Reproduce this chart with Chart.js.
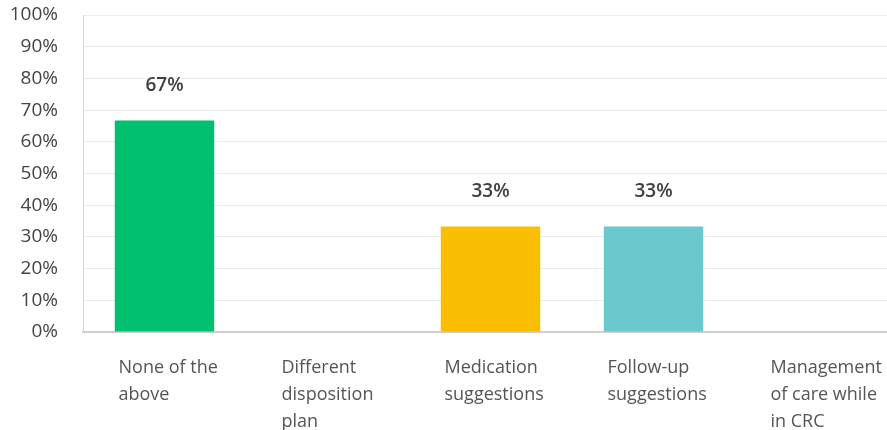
<!DOCTYPE html>
<html>
<head>
<meta charset="utf-8">
<script src="https://cdn.jsdelivr.net/npm/chart.js@4"></script>
<style>
    html, body { margin: 0; padding: 0; background: #fff; overflow: hidden; }
    #wrap { width: 898px; height: 430px; }
</style>
</head>
<body>
<div id="wrap"><canvas id="chart"></canvas></div>
<script>
'use strict';

const categories = [
    ['None of the', 'above'],
    ['Different', 'disposition', 'plan'],
    ['Medication', 'suggestions'],
    ['Follow-up', 'suggestions'],
    ['Management', 'of care while', 'in CRC']
];
// bar heights (2/3 and 1/3 of respondents)
const values = [66.7, 0, 33.3, 33.3, 0];
const barColors = ['#00bf6f', '#00bf6f', '#f9be00', '#6bc8cd', '#6bc8cd'];
const yTicks = [0, 10, 20, 30, 40, 50, 60, 70, 80, 90, 100];

const FONT = '"Open Sans", sans-serif';

// draws the "67%" labels above each non-zero bar
const valueLabels = {
    id: 'valueLabels',
    afterDatasetsDraw(chart) {
        const ctx = chart.ctx;
        const meta = chart.getDatasetMeta(0);
        ctx.save();
        ctx.font = '600 19px ' + FONT;
        ctx.fillStyle = '#3c4043';
        ctx.textAlign = 'center';
        ctx.textBaseline = 'middle';
        meta.data.forEach((bar, i) => {
            if (!values[i]) return;
            ctx.fillText(Math.round(values[i]) + '%', bar.x, bar.y - 35);
        });
        ctx.restore();
    }
};

new Chart(document.getElementById('chart'), {
    type: 'bar',
    data: {
        labels: categories,
        datasets: [{
            data: values,
            backgroundColor: barColors,
            borderWidth: 0,
            categoryPercentage: 1,
            barPercentage: 0.61
        }]
    },
    options: {
        responsive: true,
        maintainAspectRatio: false,
        animation: false,
        layout: { padding: { top: 15, right: 0, left: 0, bottom: 0 } },
        plugins: {
            legend: { display: false },
            tooltip: { enabled: false }
        },
        scales: {
            x: {
                grid: { display: false, drawTicks: false },
                border: { color: '#cfcfcf', width: 2 },
                ticks: {
                    color: '#555',
                    font: { family: FONT, size: 18, lineHeight: 1.5 },
                    padding: 22,
                    align: 'start',
                    labelOffset: -46,
                    autoSkip: false,
                    maxRotation: 0
                },
                afterFit(scale) {
                    scale.height = 98;
                    scale.paddingLeft = 0;
                    scale.paddingRight = 0;
                }
            },
            y: {
                min: 0,
                max: 100,
                afterBuildTicks(scale) { scale.ticks = yTicks.map(v => ({ value: v })); },
                grid: { color: '#ececec', drawTicks: false },
                border: { color: '#d6d6d6', width: 1 },
                ticks: {
                    color: '#444',
                    font: { family: FONT, size: 19 },
                    padding: 25,
                    callback: v => v + '%'
                },
                afterFit(scale) {
                    scale.width = 83;
                    scale.paddingTop = 0;
                    scale.paddingBottom = 0;
                }
            }
        }
    },
    plugins: [valueLabels]
});
</script>
</body>
</html>
